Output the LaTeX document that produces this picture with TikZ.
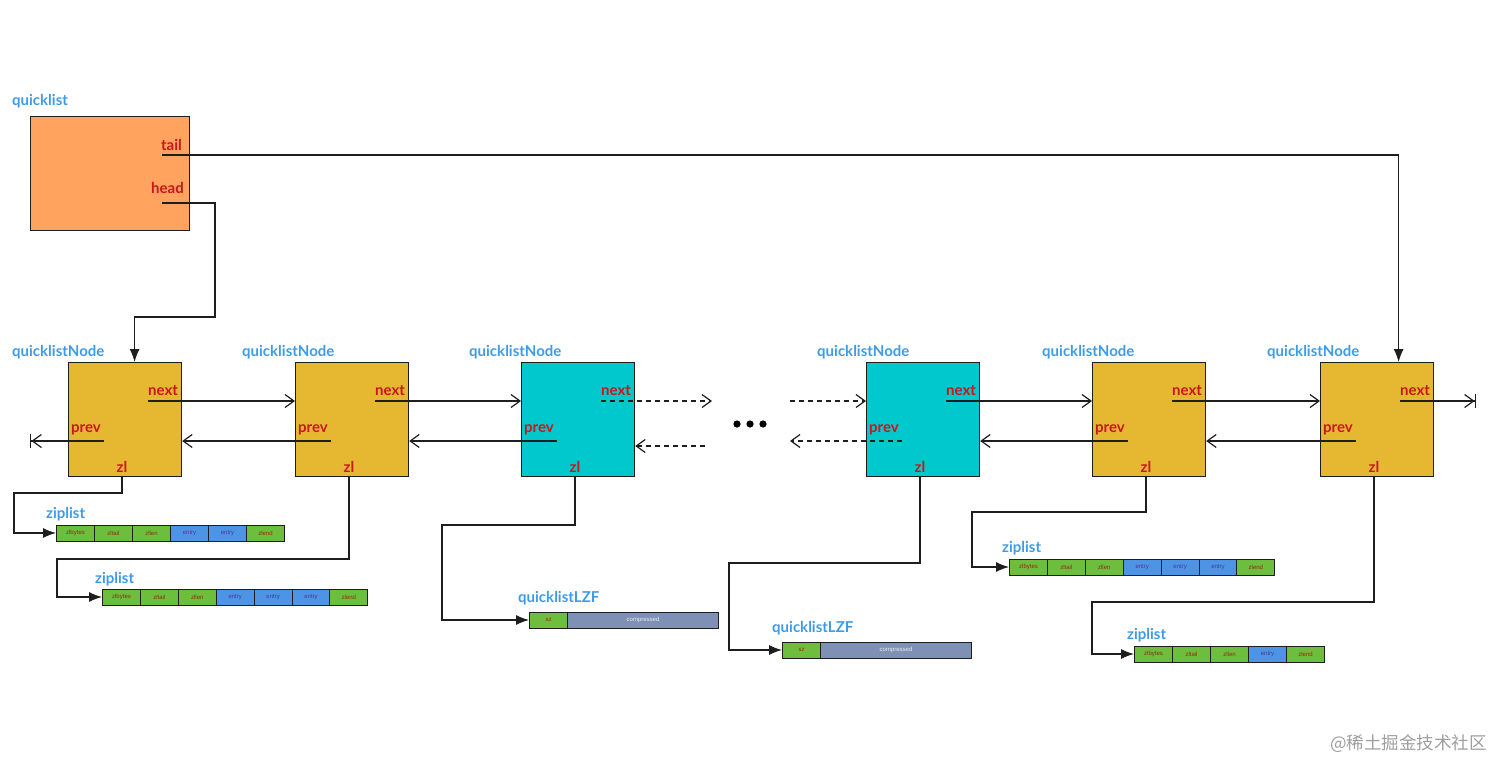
\documentclass[tikz,border=0pt]{standalone}
\usepackage{fontspec}
\setmainfont{Lato}
\newfontfamily\cellfont{Liberation Sans}
\newfontfamily\cjk{Noto Sans CJK SC}
\usetikzlibrary{arrows.meta,calc}
\definecolor{qorange}{HTML}{FFA35F}
\definecolor{qyellow}{HTML}{E6B832}
\definecolor{qcyan}{HTML}{00C8CC}
\definecolor{qgreen}{HTML}{6DBE3D}
\definecolor{qblue}{HTML}{4D94E6}
\definecolor{qgray}{HTML}{7F90B5}
\definecolor{lblue}{HTML}{3D9BE9}
\definecolor{lred}{HTML}{C8171E}
\definecolor{linec}{HTML}{1E1E1E}
\definecolor{gtxt}{HTML}{8E2A18}
\definecolor{btxt}{HTML}{4A3A8C}
\begin{document}
\begin{tikzpicture}[x=1pt,y=-1pt,
  lbl/.style={font=\bfseries\fontsize{15}{17}\selectfont, text=lblue, anchor=base west, inner sep=0},
  redl/.style={font=\bfseries\fontsize{15}{17}\selectfont, text=lred, inner sep=0},
  nodebox/.style={draw=linec, line width=1.2pt, minimum width=113pt, minimum height=114pt, inner sep=0, anchor=north west},
  cell/.style={draw=linec, line width=1pt, minimum width=38pt, minimum height=16pt, inner sep=0, anchor=west, font=\cellfont\fontsize{6}{7}\selectfont},
  gcell/.style={cell, fill=qgreen, text=gtxt},
  bcell/.style={cell, fill=qblue, text=btxt},
  conn/.style={draw=linec, line width=1.1pt},
  openarr/.style={conn, -{Straight Barb[length=9pt,width=13pt,line width=1.2pt]}},
  dasharr/.style={openarr, dash pattern=on 5pt off 4pt},
  bararr/.style={conn, -{Straight Barb[length=9pt,width=13pt,line width=1.2pt]Bar[width=14pt,line width=1.4pt]}},
  fillarr/.style={conn, -{Latex[length=13pt,width=10pt]}},
]
\useasboundingbox (0,0) rectangle (1512,774);

% quicklist
\node[lbl] (qlbl) at (12,105) {quicklist};
\node[draw=linec, line width=1.2pt, fill=qorange, minimum width=159pt, minimum height=114pt, inner sep=0, anchor=north west] (ql) at (30,116) {};
\node[redl, anchor=base east] (tail) at (182,150) {tail};
\node[redl, anchor=base east] (head) at (184,193) {head};
\coordinate (tailst) at (162,155);
\coordinate (headst) at (162,203);

% quicklist nodes
\node[nodebox, fill=qyellow] (n1) at (68,362) {};
\node[nodebox, fill=qyellow] (n2) at (295,362) {};
\node[nodebox, fill=qcyan]   (n3) at (521,362) {};
\node[nodebox, fill=qcyan]   (n4) at (866,362) {};
\node[nodebox, fill=qyellow] (n5) at (1092,362) {};
\node[nodebox, fill=qyellow] (n6) at (1320,362) {};

\node[lbl] (l1) at (12,356) {quicklistNode};
\node[lbl] (l2) at (242,356) {quicklistNode};
\node[lbl] (l3) at (469,356) {quicklistNode};
\node[lbl] (l4) at (817,356) {quicklistNode};
\node[lbl] (l5) at (1042,356) {quicklistNode};
\node[lbl] (l6) at (1267,356) {quicklistNode};

\foreach \n in {n1,n2,n3,n4,n5,n6}{
  \node[redl, anchor=base west] (\n-next) at ($(\n.north west)+(80,33)$) {next};
  \node[redl, anchor=base west] (\n-prev) at ($(\n.north west)+(3,70)$) {prev};
  \node[redl, anchor=base] (\n-zl) at ($(\n.north west)+(54,110)$) {zl};
  \coordinate (\n-nx) at ($(\n.north west)+(80,39)$);
  \coordinate (\n-in) at ($(\n.north west)+(0,39)$);
  \coordinate (\n-pv) at ($(\n.north west)+(36,79)$);
  \coordinate (\n-out) at ($(\n.north east)+(0,79)$);
}

% ziplists and LZF
\node[lbl] (zl1) at (46,518) {ziplist};
\foreach \t/\s [count=\i from 0] in {zlbytes/gcell,zltail/gcell,zllen/gcell,entry/bcell,entry/bcell,zlend/gcell}
  \node[\s] (z1c\i) at (56+38*\i,533) {\t};
\node[lbl] (zl2) at (95,583) {ziplist};
\foreach \t/\s [count=\i from 0] in {zlbytes/gcell,zltail/gcell,zllen/gcell,entry/bcell,entry/bcell,entry/bcell,zlend/gcell}
  \node[\s] (z2c\i) at (102+37.9*\i,597) {\t};
\node[lbl] (zl3) at (1002,552) {ziplist};
\foreach \t/\s [count=\i from 0] in {zlbytes/gcell,zltail/gcell,zllen/gcell,entry/bcell,entry/bcell,entry/bcell,zlend/gcell}
  \node[\s] (z3c\i) at (1009+37.9*\i,567) {\t};
\node[lbl] (zl4) at (1127,639) {ziplist};
\foreach \t/\s [count=\i from 0] in {zlbytes/gcell,zltail/gcell,zllen/gcell,entry/bcell,zlend/gcell}
  \node[\s] (z4c\i) at (1134+38*\i,654) {\t};

\node[lbl] (lz1) at (518,602) {quicklistLZF};
\node[gcell] (f1a) at (529,620) {sz};
\node[cell, fill=qgray, text=white!85!qgray, minimum width=151pt] (f1b) at (567,620) {compressed};
\node[lbl] (lz2) at (772,632) {quicklistLZF};
\node[gcell] (f2a) at (782,650) {sz};
\node[cell, fill=qgray, text=white!85!qgray, minimum width=151pt] (f2b) at (820,650) {compressed};

% head / tail
\draw[fillarr] (tailst) -| ([xshift=21.5pt]n6.north);
\draw[fillarr] (headst) -| (215,317) -| ([xshift=9.5pt]n1.north);

% next / prev links
\draw[openarr] (n1-nx) -- (n2-in);
\draw[openarr] (n2-nx) -- (n3-in);
\draw[openarr] (n4-nx) -- (n5-in);
\draw[openarr] (n5-nx) -- (n6-in);
\draw[openarr] (n2-pv) -- (n1-out);
\draw[openarr] (n3-pv) -- (n2-out);
\draw[openarr] (n5-pv) -- (n4-out);
\draw[openarr] (n6-pv) -- (n5-out);
\coordinate (e1) at (30,441);
\coordinate (e2) at (1476,401);
\draw[bararr] (n1-pv) -- (e1);
\draw[bararr] (n6-nx) -- (e2);

\coordinate (d1) at (712,401);
\coordinate (d2) at (790,401);
\coordinate (d3) at (790,441);
\coordinate (d4) at (705,446);
\draw[dasharr] (n3-nx) -- (d1);
\draw[dasharr] (d2) -- (n4-in);
\draw[dasharr] (n4-pv) -- (d3);
\draw[dasharr] (d4) -- ($(n3.north east)+(0,84)$);

\fill[black] (737,424) circle (3.6) (750,424) circle (3.6) (763,424) circle (3.6);

% zl links
\draw[fillarr] (n1-zl |- n1.south) |- (14,493) |- (z1c0.west);
\draw[fillarr] (n2-zl |- n2.south) |- (57,559) |- (z2c0.west);
\draw[fillarr] (n3-zl |- n3.south) |- (442,525) |- (f1a.west);
\draw[fillarr] (n4-zl |- n4.south) |- (729,563) |- (f2a.west);
\draw[fillarr] (n5-zl |- n5.south) |- (972,512) |- (z3c0.west);
\draw[fillarr] (n6-zl |- n6.south) |- (1092,602) |- (z4c0.west);

% watermark
\node[anchor=west, inner sep=0, text=black!38, font=\cjk\fontsize{17.5}{19}\selectfont] (wm) at (1330,744) {@稀土掘金技术社区};
\end{tikzpicture}
\end{document}
